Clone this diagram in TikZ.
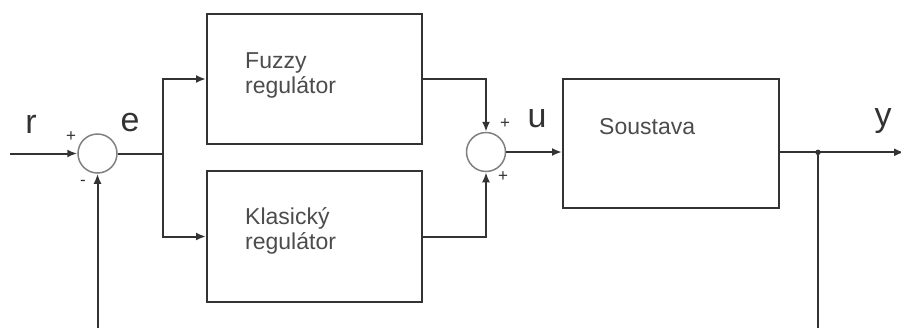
\documentclass[tikz,border=0pt]{standalone}
\usepackage{fontspec}
\setmainfont{Liberation Sans}
\usetikzlibrary{arrows.meta}
\definecolor{ink}{HTML}{333333}
\begin{document}
\begin{tikzpicture}[x=1pt,y=-1pt,
  line/.style={draw=ink, line width=2pt},
  arr/.style={line, -{Latex[length=10pt,width=8pt]}},
  blk/.style={draw=ink, line width=2pt, rectangle, inner sep=0pt},
  sumc/.style={circle, draw=black!50, line width=1.5pt, minimum size=39pt, inner sep=0pt},
  lbl/.style={font=\fontsize{34}{34}\selectfont, text=ink, inner sep=0pt},
  sgn/.style={font=\fontsize{17}{17}\selectfont, text=ink, inner sep=0pt},
  btxt/.style={font=\fontsize{23}{25}\selectfont, align=left, anchor=west, text=black!70, inner sep=0pt}]
\useasboundingbox (0,0) rectangle (901,327);
% blocks
\node[blk, minimum width=215pt, minimum height=130pt] (fz) at (314.5,79) {};
\node[blk, minimum width=215pt, minimum height=131pt] (kl) at (314.5,236.5) {};
\node[blk, minimum width=216pt, minimum height=129pt] (so) at (671,143.5) {};
\node[btxt] (fzt) at (245,75) {Fuzzy\\regulátor};
\node[btxt] (klt) at (245,231) {Klasický\\regulátor};
\node[btxt] (sot) at (599,127) {Soustava};
% summing junctions
\node[sumc] (s1) at (97.5,153.5) {};
\node[sumc] (s2) at (486,152) {};
% coordinates
\coordinate (in) at (10,153.5);
\coordinate (br) at (162.5,153.5);
\coordinate (out) at (904,152.3);
\coordinate (fb1) at (97.5,330);
\coordinate (fb2) at (818,330);
\node[circle, fill=ink, inner sep=0pt, minimum size=5.5pt] (dot) at (818,152.3) {};
% connectors
\draw[arr] (in) -- (s1);
\draw[line] (s1.east) -- (br);
\draw[arr] (br) |- (fz.west);
\draw[arr] (br) |- (kl.west);
\draw[arr] (fz.east) -| (s2.north);
\draw[arr] (kl.east) -| (s2.south);
\draw[arr] (s2.east) -- (s2.east -| so.west);
\draw[arr] (so.east |- out) -- (out);
\draw[line] (dot.center) -- (fb2);
\draw[arr] (fb1) -- (s1.south);
% labels
\node[lbl] (lr) at (31,124) {r};
\node[lbl] (le) at (130,123) {e};
\node[lbl] (lu) at (537,119) {u};
\node[lbl] (ly) at (883,121) {y};
\node[sgn] (p1) at (71,137) {+};
\node[sgn] (m1) at (83,183) {-};
\node[sgn] (p2) at (505,124) {+};
\node[sgn] (p3) at (503,177) {+};
\end{tikzpicture}
\end{document}
